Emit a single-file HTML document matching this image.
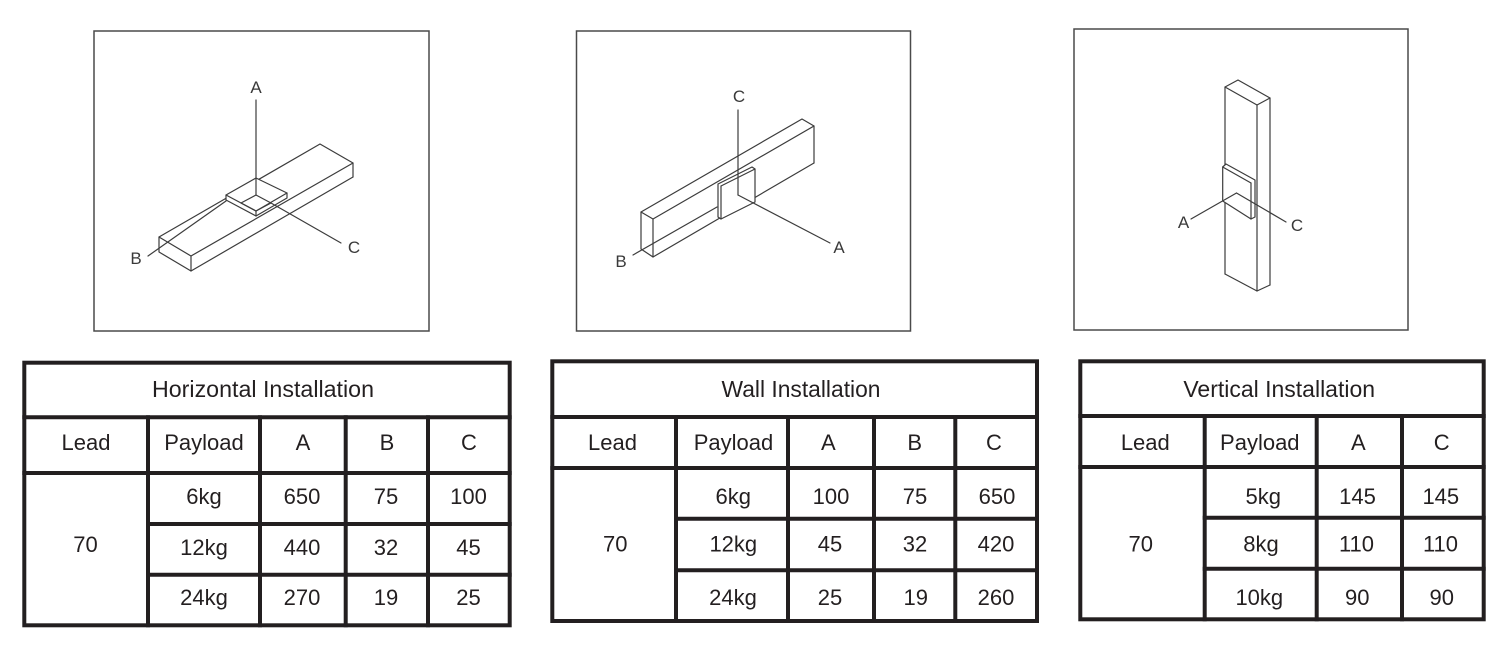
<!DOCTYPE html>
<html>
<head>
<meta charset="utf-8">
<style>
  html, body { margin: 0; padding: 0; background: #ffffff; }
  svg { display: block; }
  .t { font-family: "Liberation Sans", Arial, sans-serif; fill: #231f20; font-size: 22px; text-anchor: middle; }
  .tt { font-family: "Liberation Sans", Arial, sans-serif; fill: #231f20; font-size: 23px; text-anchor: middle; }
  .lbl { font-family: "Liberation Sans", Arial, sans-serif; fill: #3a3a3a; font-size: 17px; text-anchor: middle; }
  .d { fill: none; stroke: #3c3c3c; stroke-width: 1.2; stroke-linejoin: round; stroke-linecap: round; }
  .dw { fill: #ffffff; stroke: #3c3c3c; stroke-width: 1.2; stroke-linejoin: round; }
  .box { fill: none; stroke: #4a4a4a; stroke-width: 1.5; }
  .g { stroke: #231f20; stroke-width: 4; fill: none; stroke-linecap: square; }
</style>
</head>
<body>
<svg width="1506" height="652" viewBox="0 0 1506 652" xmlns="http://www.w3.org/2000/svg">
  <rect x="0" y="0" width="1506" height="652" fill="#ffffff"/>

  <!-- ================= Diagram boxes ================= -->
  <rect class="box" x="94" y="31" width="335" height="300"/>
  <rect class="box" x="576.5" y="31" width="334" height="300"/>
  <rect class="box" x="1074" y="29" width="334" height="301"/>

  <!-- ================= Horizontal diagram ================= -->
  <!-- rail -->
  <polyline class="d" points="159,237 320,144 353,163 353,177"/>
  <line class="d" x1="191" y1="256" x2="353" y2="163"/>
  <line class="d" x1="191" y1="271" x2="353" y2="177"/>
  <polygon class="d" points="159,237 191,256 191,271 159,252"/>
  <!-- B leader / center line -->
  <line class="d" x1="148" y1="256" x2="226" y2="201"/>
  <!-- carriage -->
  <polygon class="dw" points="226,195 256,178 287,193 287,198 256,216 226,200"/>
  <polyline class="d" points="226,195 256,211 287,193"/>
  <line class="d" x1="256" y1="211" x2="256" y2="216"/>
  <polygon class="d" points="256,195 241,203 256,211 271,203"/>
  <!-- leaders -->
  <line class="d" x1="256" y1="100" x2="256" y2="195"/>
  <line class="d" x1="271" y1="203" x2="341" y2="243"/>
  <text class="lbl" x="256" y="93">A</text>
  <text class="lbl" x="136" y="264">B</text>
  <text class="lbl" x="354" y="253">C</text>

  <!-- ================= Wall diagram ================= -->
  <polygon class="d" points="641,212 653,219 653,257 641,249"/>
  <polyline class="d" points="641,212 802,119 814,126 814,163"/>
  <line class="d" x1="653" y1="219" x2="814" y2="126"/>
  <line class="d" x1="653" y1="257" x2="814" y2="163"/>
  <line class="d" x1="633" y1="255" x2="717" y2="207"/>
  <!-- plate -->
  <polygon class="dw" points="718,184 752,167 755,169 755,202 721,219 718,217"/>
  <line class="d" x1="721" y1="186" x2="755" y2="169"/>
  <line class="d" x1="721" y1="186" x2="721" y2="219"/>
  <!-- leaders -->
  <line class="d" x1="738" y1="110" x2="738" y2="195"/>
  <line class="d" x1="738" y1="195" x2="830" y2="243"/>
  <text class="lbl" x="739" y="102">C</text>
  <text class="lbl" x="839" y="253">A</text>
  <text class="lbl" x="621" y="267">B</text>

  <!-- ================= Vertical diagram ================= -->
  <polygon class="d" points="1225,87 1238,80 1270,98 1257,105"/>
  <line class="d" x1="1225" y1="87" x2="1225" y2="274"/>
  <line class="d" x1="1257" y1="105" x2="1257" y2="291"/>
  <line class="d" x1="1270" y1="98" x2="1270" y2="285"/>
  <polyline class="d" points="1225,274 1257,291 1270,285"/>
  <!-- plate -->
  <polygon class="dw" points="1222.7,167 1226,164 1255,180 1255,217 1251,219 1222.7,201"/>
  <line class="d" x1="1222.7" y1="167" x2="1251" y2="183"/>
  <line class="d" x1="1251" y1="183" x2="1251" y2="219"/>
  <!-- leaders -->
  <line class="d" x1="1191" y1="219" x2="1236.5" y2="193"/>
  <line class="d" x1="1236.5" y1="193" x2="1286" y2="222"/>
  <text class="lbl" x="1183.5" y="228">A</text>
  <text class="lbl" x="1297" y="231">C</text>

  <!-- ================= Table 1: Horizontal ================= -->
  <rect class="g" x="24.3" y="362.7" width="485.4" height="262.6"/>
  <line class="g" x1="24.3" y1="417.3" x2="509.7" y2="417.3"/>
  <line class="g" x1="24.3" y1="473" x2="509.7" y2="473"/>
  <line class="g" x1="148" y1="524" x2="509.7" y2="524"/>
  <line class="g" x1="148" y1="574.7" x2="509.7" y2="574.7"/>
  <line class="g" x1="148" y1="417.3" x2="148" y2="625.3"/>
  <line class="g" x1="260" y1="417.3" x2="260" y2="625.3"/>
  <line class="g" x1="345.7" y1="417.3" x2="345.7" y2="625.3"/>
  <line class="g" x1="428" y1="417.3" x2="428" y2="625.3"/>

  <text class="tt" x="263" y="397" textLength="222" lengthAdjust="spacingAndGlyphs">Horizontal Installation</text>
  <text class="t" x="86" y="450">Lead</text>
  <text class="t" x="204" y="450">Payload</text>
  <text class="t" x="303" y="450">A</text>
  <text class="t" x="387" y="450">B</text>
  <text class="t" x="469" y="450">C</text>

  <text class="t" x="85.5" y="552">70</text>
  <text class="t" x="204" y="504">6kg</text>
  <text class="t" x="302" y="504">650</text>
  <text class="t" x="386" y="504">75</text>
  <text class="t" x="468.5" y="504">100</text>
  <text class="t" x="204" y="555">12kg</text>
  <text class="t" x="302" y="555">440</text>
  <text class="t" x="386" y="555">32</text>
  <text class="t" x="468.5" y="555">45</text>
  <text class="t" x="204" y="605">24kg</text>
  <text class="t" x="302" y="605">270</text>
  <text class="t" x="386" y="605">19</text>
  <text class="t" x="468.5" y="605">25</text>

  <!-- ================= Table 2: Wall ================= -->
  <rect class="g" x="552.3" y="361.3" width="484.7" height="259.7"/>
  <line class="g" x1="552.3" y1="417" x2="1037" y2="417"/>
  <line class="g" x1="552.3" y1="468" x2="1037" y2="468"/>
  <line class="g" x1="676" y1="518.7" x2="1037" y2="518.7"/>
  <line class="g" x1="676" y1="570.3" x2="1037" y2="570.3"/>
  <line class="g" x1="676" y1="417" x2="676" y2="621"/>
  <line class="g" x1="788" y1="417" x2="788" y2="621"/>
  <line class="g" x1="874" y1="417" x2="874" y2="621"/>
  <line class="g" x1="955.3" y1="417" x2="955.3" y2="621"/>

  <text class="tt" x="801" y="397" textLength="159" lengthAdjust="spacingAndGlyphs">Wall Installation</text>
  <text class="t" x="612.5" y="450">Lead</text>
  <text class="t" x="733.5" y="450">Payload</text>
  <text class="t" x="828.3" y="450">A</text>
  <text class="t" x="914.7" y="450">B</text>
  <text class="t" x="994" y="450">C</text>

  <text class="t" x="615.3" y="551.7">70</text>
  <text class="t" x="733.3" y="504">6kg</text>
  <text class="t" x="831" y="504">100</text>
  <text class="t" x="915" y="504">75</text>
  <text class="t" x="997" y="504">650</text>
  <text class="t" x="733.3" y="551.7">12kg</text>
  <text class="t" x="830" y="551.7">45</text>
  <text class="t" x="915" y="551.7">32</text>
  <text class="t" x="996" y="551.7">420</text>
  <text class="t" x="733" y="605">24kg</text>
  <text class="t" x="830" y="605">25</text>
  <text class="t" x="915.7" y="605">19</text>
  <text class="t" x="996" y="605">260</text>

  <!-- ================= Table 3: Vertical ================= -->
  <rect class="g" x="1080.3" y="361.3" width="403.4" height="258"/>
  <line class="g" x1="1080.3" y1="416" x2="1483.7" y2="416"/>
  <line class="g" x1="1080.3" y1="467" x2="1483.7" y2="467"/>
  <line class="g" x1="1204.7" y1="517.7" x2="1483.7" y2="517.7"/>
  <line class="g" x1="1204.7" y1="568.7" x2="1483.7" y2="568.7"/>
  <line class="g" x1="1204.7" y1="416" x2="1204.7" y2="619.3"/>
  <line class="g" x1="1316.7" y1="416" x2="1316.7" y2="619.3"/>
  <line class="g" x1="1402" y1="416" x2="1402" y2="619.3"/>

  <text class="tt" x="1279.2" y="397" textLength="191.7" lengthAdjust="spacingAndGlyphs">Vertical Installation</text>
  <text class="t" x="1145.3" y="450">Lead</text>
  <text class="t" x="1259.8" y="450">Payload</text>
  <text class="t" x="1358.3" y="450">A</text>
  <text class="t" x="1441.7" y="450">C</text>

  <text class="t" x="1140.8" y="551.7">70</text>
  <text class="t" x="1263.3" y="504">5kg</text>
  <text class="t" x="1357.5" y="504">145</text>
  <text class="t" x="1440.8" y="504">145</text>
  <text class="t" x="1261" y="551.7">8kg</text>
  <text class="t" x="1356.5" y="551.7">110</text>
  <text class="t" x="1440.5" y="551.7">110</text>
  <text class="t" x="1259.3" y="605">10kg</text>
  <text class="t" x="1357.2" y="605">90</text>
  <text class="t" x="1441.7" y="605">90</text>
</svg>
</body>
</html>
